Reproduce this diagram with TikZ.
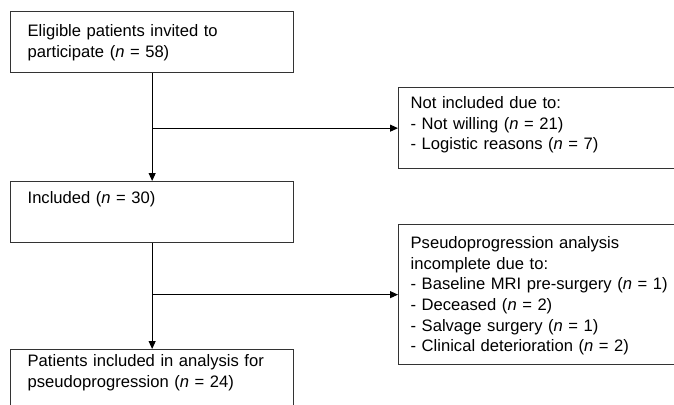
\documentclass[tikz,border=0pt]{standalone}
\usepackage{fontspec}
\setmainfont{Liberation Sans}
\usetikzlibrary{arrows.meta}

\begin{document}
\begin{tikzpicture}[x=1pt,y=1pt,>={Triangle[length=8pt,width=7pt]},
    box/.style={draw=black!80,line width=1.3pt,anchor=north west,align=left,
      inner ysep=0pt,font=\fontsize{16.6}{20.6}\selectfont},
    mainbox/.style={box,inner xsep=17pt,text width=249pt},
    sidebox/.style={box,inner xsep=12pt,text width=265pt},
    link/.style={->,line width=1pt}]
  \useasboundingbox (0,0) rectangle (674,-404);
  \node[mainbox,text height=25pt,text depth=36pt] (invited) at (10,-11)
    {Eligible patients invited to\\participate (\textit{n} = 58)};
  \node[sidebox,text height=21pt,text depth=60pt] (notincl) at (398,-87)
    {Not included due to:\\- Not willing (\textit{n} = 21)\\- Logistic reasons (\textit{n} = 7)};
  \node[mainbox,text height=22pt,text depth=39pt] (included) at (10,-181)
    {Included (\textit{n} = 30)};
  \node[sidebox,text height=24pt,text depth=116pt] (incomplete) at (398,-224)
    {Pseudoprogression analysis\\incomplete due to:\\- Baseline MRI pre-surgery (\textit{n} = 1)\\- Deceased (\textit{n} = 2)\\- Salvage surgery (\textit{n} = 1)\\- Clinical deterioration (\textit{n} = 2)};
  \node[mainbox,text height=17pt,text depth=50pt] (analysed) at (10,-349)
    {Patients included in analysis for\\pseudoprogression (\textit{n} = 24)};
  % forks on the main line
  \coordinate (fork1) at (invited.south |- notincl.west);
  \coordinate (fork2) at (included.south |- incomplete.west);
  \draw[link] (invited.south) -- (included.north);
  \draw[link] (fork1) -- (notincl.west);
  \draw[link] (included.south) -- (analysed.north);
  \draw[link] (fork2) -- (incomplete.west);
\end{tikzpicture}
\end{document}
